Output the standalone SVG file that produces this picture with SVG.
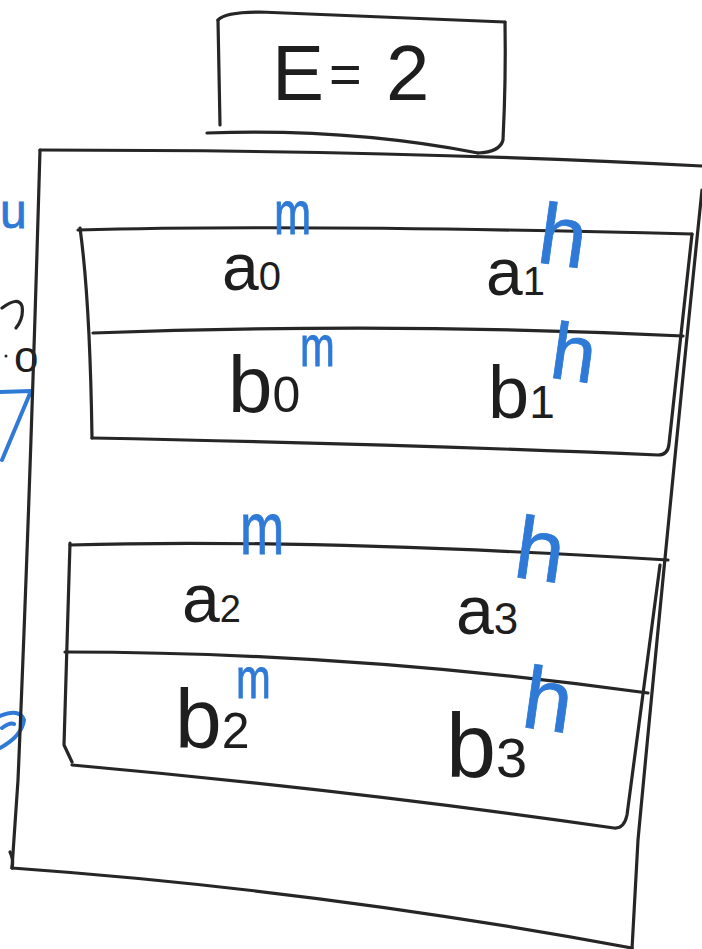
<svg xmlns="http://www.w3.org/2000/svg" width="702" height="949" viewBox="0 0 702 949">
<style>
.ln{fill:none;stroke:#262626;stroke-width:3.2;stroke-linecap:round;stroke-linejoin:round}
.bl{fill:none;stroke:#2f7ad6;stroke-width:4;stroke-linecap:round;stroke-linejoin:round}
.t{font-family:"Liberation Sans",Arial,sans-serif;fill:#1e1e1e}
.m{font-family:"Liberation Sans",Arial,sans-serif;fill:#2f7ad6;stroke:#2f7ad6;stroke-width:0.8}
</style>
<rect width="702" height="949" fill="#ffffff"/>
<g id="connectors"></g>
<g id="fragments">
<text class="m" x="0" y="228" font-size="48">u</text>
<path class="ln" d="M2,308 Q18,296 22,306 Q24,318 16,328" stroke-width="2.6"/>
<text class="t" x="14" y="372" font-size="44">o</text>
<circle cx="6" cy="356" r="1.5" fill="#262626"/>
<path class="bl" d="M0,392 L31,391 L2,460"/>
<path class="bl" d="M0,716 Q20,708 24,720 Q22,736 0,748 M2,728 Q10,722 14,724"/>
</g>
<g id="e-box">
<path class="ln" d="M218,20 Q225,12 260,12 L505,22"/>
<path class="ln" d="M218,20 L220,125"/>
<path class="ln" d="M505,22 Q506,80 503,140 Q500,152 478,153"/>
<path class="ln" d="M207,133 Q350,128 478,153"/>
<text class="t" x="272" y="100" font-size="78">E</text>
<text class="t" x="329" y="93" font-size="56">=</text>
<text class="t" x="386" y="100" font-size="78">2</text>
</g>
<g id="outer-box">
<path class="ln" d="M40,150 Q400,150 702,166"/>
<path class="ln" d="M40,150 Q30,500 18,780 L12,868"/>
<path class="ln" d="M10,852 Q14,860 12,868"/>
<path class="ln" d="M12,868 Q320,890 632,948"/>
<path class="ln" d="M702,190 Q670,500 638,840 L632,949"/>
</g>
<g id="block-1">
<path class="ln" d="M78,230 Q300,224 692,234"/>
<path class="ln" d="M80,228 Q90,300 92,438"/>
<path class="ln" d="M93,333 Q400,322 683,336"/>
<path class="ln" d="M92,438 Q400,444 658,455 Q668,455 669,444 L692,234"/>
<text class="t" x="222" y="290" font-size="66">a<tspan font-size="40">0</tspan></text>
<text class="t" x="486" y="295" font-size="66">a<tspan font-size="40">1</tspan></text>
<text class="t" x="228" y="412" font-size="80">b<tspan font-size="50">0</tspan></text>
<text class="t" x="488" y="418" font-size="74">b<tspan font-size="46">1</tspan></text>
<text class="m" font-size="62" transform="translate(274,234) scale(0.72,1)">m</text>
<text class="m" font-size="58" transform="translate(300,366) scale(0.72,1)">m</text>
<text class="m" x="540" y="265" font-size="86" transform="rotate(8 560 230)">h</text>
<text class="m" x="552" y="380" font-size="80" transform="rotate(8 570 350)">h</text>
</g>
<g id="block-2">
<path class="ln" d="M70,545 Q300,538 668,560"/>
<path class="ln" d="M70,543 L64,745 L72,762"/>
<path class="ln" d="M65,652 Q350,652 648,693"/>
<path class="ln" d="M72,765 Q350,790 614,828 Q624,829 627,815 L660,565"/>
<text class="t" x="182" y="622" font-size="68">a<tspan font-size="38">2</tspan></text>
<text class="t" x="456" y="634" font-size="68">a<tspan font-size="44">3</tspan></text>
<text class="t" x="175" y="748" font-size="84">b<tspan font-size="50">2</tspan></text>
<text class="t" x="446" y="777" font-size="90">b<tspan font-size="56">3</tspan></text>
<text class="m" font-size="74" transform="translate(240,554) scale(0.72,1)">m</text>
<text class="m" font-size="58" transform="translate(236,698) scale(0.72,1)">m</text>
<text class="m" x="517" y="580" font-size="88" transform="rotate(8 540 540)">h</text>
<text class="m" x="525" y="730" font-size="88" transform="rotate(8 548 690)">h</text>
</g>
</svg>
